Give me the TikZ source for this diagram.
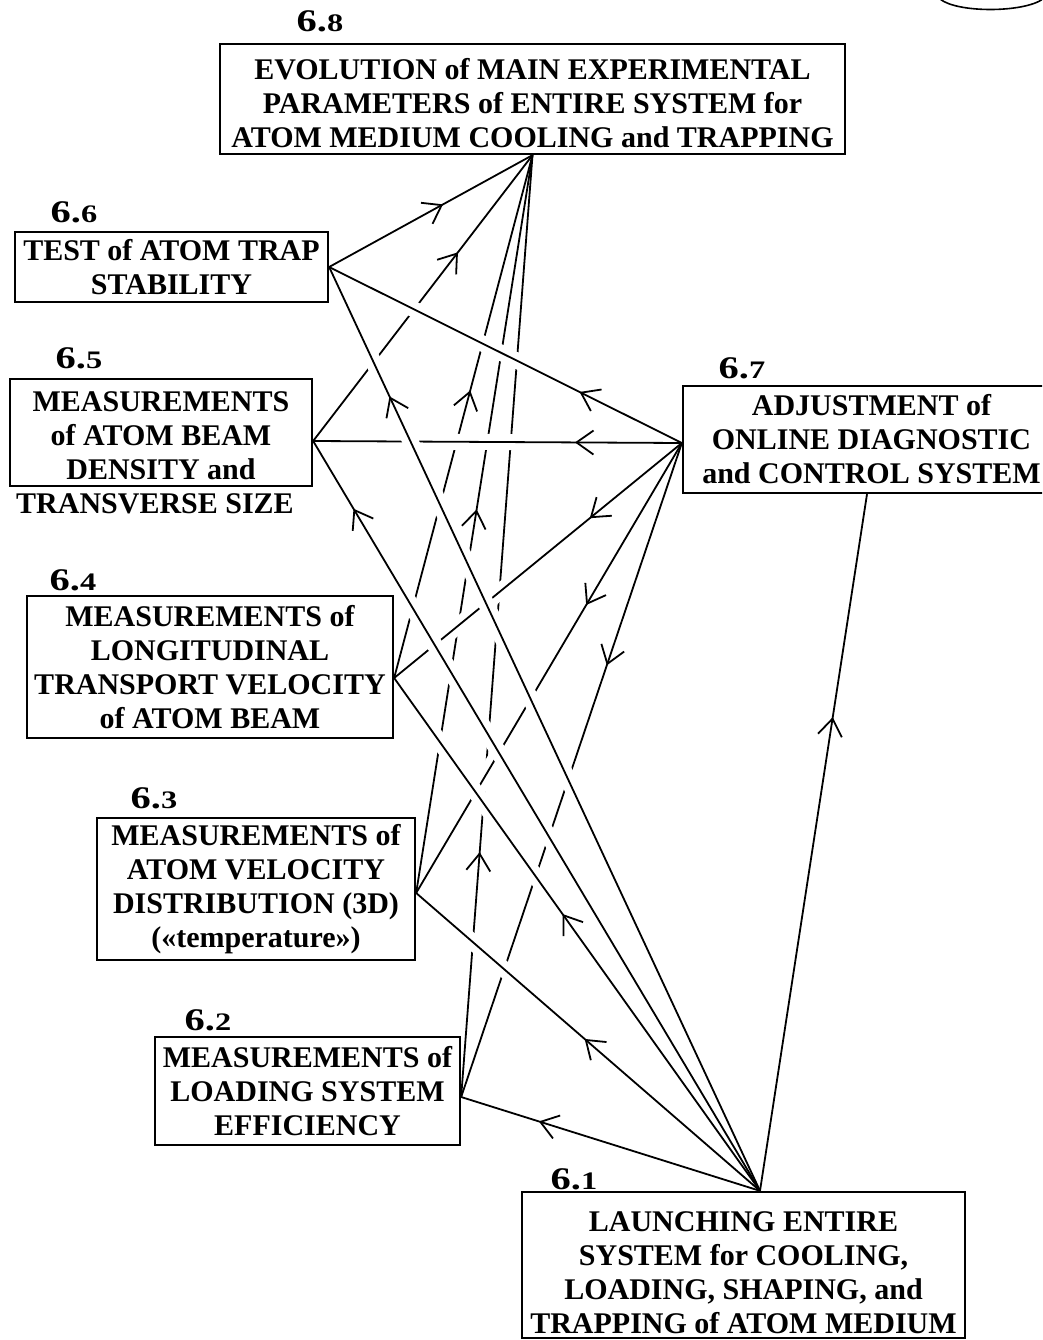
\documentclass[tikz,border=0pt]{standalone}
\usepackage{fontspec}
\usepackage{graphicx}
\setmainfont{Liberation Serif}
\usetikzlibrary{arrows.meta,decorations.markings}
\tikzset{
  blk/.style={draw, line width=2.3pt, align=center, inner sep=0pt,
    font=\fontsize{30}{34}\selectfont\bfseries},
  plaintext/.style={inner sep=0pt, align=center, font=\fontsize{30}{34}\selectfont\bfseries},
  numlab/.style={inner sep=0pt, font=\fontsize{30}{30}\selectfont\bfseries},
  conn/.style={line width=1.8pt},
  halo/.style={draw=white, line width=16pt, shorten <=40pt, shorten >=40pt},
  midarr/.style={postaction={decorate, decoration={markings,
    mark=at position #1 with {\arrow{Straight Barb[length=17pt,width=24pt]}}}}},
}
\newcommand{\numlabel}[2]{\scalebox{1.35}[1.05]{#1.{\fontsize{24}{24}\selectfont #2}}}
\newcommand{\pushdown}[1]{\vphantom{X}\\[#1]}
\begin{document}
\begin{tikzpicture}[x=1pt,y=-1pt]
\useasboundingbox (0,0) rectangle (1042,1340);
\clip (0,0) rectangle (1042,1340);

% boxes
\node[blk, minimum width=625pt, minimum height=110pt] (b8) at (532.5,99)
  {\pushdown{-24pt}EVOLUTION of MAIN EXPERIMENTAL\\PARAMETERS of ENTIRE SYSTEM for\\ATOM MEDIUM COOLING and TRAPPING};
\node[blk, minimum width=313pt, minimum height=70pt] (b6) at (171.5,267)
  {TEST of ATOM TRAP\\STABILITY};
\node[blk, minimum width=302pt, minimum height=107pt] (b5) at (161,432.5)
  {\pushdown{-28pt}MEASUREMENTS\\of ATOM BEAM\\DENSITY and};
\node[plaintext] (t5) at (155,504) {TRANSVERSE SIZE};
\node[blk, minimum width=366pt, minimum height=142pt] (b4) at (210,667)
  {MEASUREMENTS of\\LONGITUDINAL\\TRANSPORT VELOCITY\\of ATOM BEAM};
\node[blk, minimum width=318pt, minimum height=142pt] (b3) at (256,889)
  {MEASUREMENTS of\\ATOM VELOCITY\\DISTRIBUTION (3D)\\(«temperature»)};
\node[blk, minimum width=305pt, minimum height=108pt] (b2) at (307.5,1091)
  {MEASUREMENTS of\\LOADING SYSTEM\\EFFICIENCY};
\node[blk, minimum width=443pt, minimum height=146pt] (b1) at (743.5,1265)
  {\pushdown{-18pt}LAUNCHING ENTIRE\\SYSTEM for COOLING,\\LOADING, SHAPING, and\\TRAPPING of ATOM MEDIUM};
\node[blk, minimum width=377pt, minimum height=107pt] (b7) at (871.5,439.5)
  {ADJUSTMENT of\\ONLINE DIAGNOSTIC\\and CONTROL SYSTEM};

% number labels
\node[numlab] (l8) at (320,21) {\numlabel{6}{8}};
\node[numlab] (l6) at (74,212) {\numlabel{6}{6}};
\node[numlab] (l5) at (79,358) {\numlabel{6}{5}};
\node[numlab] (l4) at (73,580) {\numlabel{6}{4}};
\node[numlab] (l3) at (154,798) {\numlabel{6}{3}};
\node[numlab] (l2) at (208,1020) {\numlabel{6}{2}};
\node[numlab] (l1) at (574,1179) {\numlabel{6}{1}};
\node[numlab] (l7) at (742,368) {\numlabel{6}{7}};

% connection points
\coordinate (p8) at (b8.south);
\coordinate (p6) at (b6.east);
\coordinate (p5) at ([yshift=-8.5pt]b5.east);
\coordinate (p4) at ([yshift=-11pt]b4.east);
\coordinate (p3) at ([yshift=-4pt]b3.east);
\coordinate (p2) at ([yshift=-6pt]b2.east);
\coordinate (p1) at ([xshift=16.5pt]b1.north);
\coordinate (p7) at ([yshift=-3.5pt]b7.west);
\coordinate (p7b) at ([xshift=-4.5pt]b7.south);

% lowest layer: towards 6.8
\foreach \s/\t/\p in {p5/p8/0.66, p4/p8/0.55, p3/p8/0.52, p2/p8/0.26}
  \draw[conn, midarr=\p] (\s) -- (\t);

% middle layer: from 6.7
\foreach \s/\t in {p7/p5, p7/p4, p7/p3, p7/p2}
  \path[halo] (\s) -- (\t);
\foreach \s/\t/\p in {p7/p5/0.29, p7/p4/0.32, p7/p3/0.36, p7/p2/0.34}
  \draw[conn, midarr=\p] (\s) -- (\t);

% top layer
\foreach \s/\t in {p6/p8, p7/p6, p1/p2, p1/p3, p1/p4, p1/p5, p1/p6, p1/p7b}
  \path[halo] (\s) -- (\t);
\foreach \s/\t/\p in {p6/p8/0.56, p7/p6/0.29, p1/p2/0.74, p1/p3/0.51, p1/p4/0.54, p1/p5/0.91, p1/p6/0.86, p1/p7b/0.68}
  \draw[conn, midarr=\p] (\s) -- (\t);

% fragment of a circle at the top right corner
\draw[line width=1.6pt] (940,-1) .. controls (957,13) and (1023,13) .. (1043,-1);
\end{tikzpicture}
\end{document}
